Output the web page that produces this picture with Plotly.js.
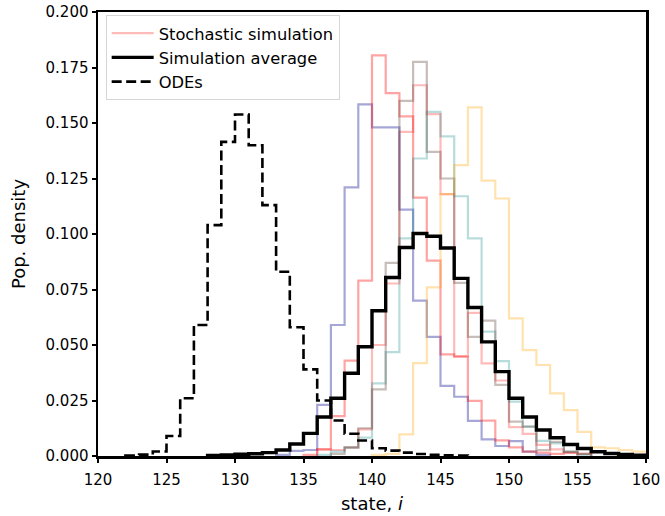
<!DOCTYPE html>
<html>
<head>
<meta charset="utf-8">
<script src="https://cdn.plot.ly/plotly-3.0.1.min.js"></script>
<style>html,body{margin:0;padding:0;background:#fff;}#chart{width:665px;height:516px;}</style>
</head>
<body>
<div id="chart"></div>
<script>
// Each histogram: first bin (left edge, integer state) and bin heights (width-1 bins)
const odeStart = 122;
const odeValues = [0.0002, 0.0006, 0.002, 0.009, 0.026, 0.059, 0.104, 0.1415, 0.1538, 0.140, 0.113, 0.083, 0.058, 0.039, 0.025, 0.016, 0.010, 0.007, 0.0035, 0.0024, 0.0015, 0.0009, 0.0005, 0.0003, 0.0002];

const avgStart = 128;
const avgValues = [0.0003, 0.0005, 0.0008, 0.001, 0.0015, 0.0027, 0.0054, 0.0102, 0.0176, 0.026, 0.0373, 0.0492, 0.0654, 0.0804, 0.0939, 0.1002, 0.099, 0.0937, 0.080, 0.0669, 0.0514, 0.038, 0.026, 0.0176, 0.0117, 0.0082, 0.0052, 0.0034, 0.0019, 0.0011, 0.0007, 0.0004];

const simPinkStart = 136;
const simPinkValues = [0.003, 0.0027, 0.004, 0.012, 0.050, 0.0777, 0.146, 0.167, 0.154, 0.118, 0.045, 0.0645, 0.0417, 0.034, 0.013, 0.010, 0.005, 0.003, 0.0015];

const simBlueStart = 133;
const simBlueValues = [0.0005, 0.0023, 0.0027, 0.023, 0.059, 0.121, 0.1584, 0.148, 0.148, 0.111, 0.070, 0.0537, 0.0316, 0.0267, 0.0158, 0.0075, 0.0045, 0.0067, 0.002, 0.0005];

const simRedStart = 135;
const simRedValues = [0.0005, 0.003, 0.018, 0.043, 0.079, 0.1805, 0.1635, 0.153, 0.1164, 0.088, 0.0458, 0.0447, 0.0248, 0.0159, 0.007, 0.0039, 0.002, 0.0015, 0.001, 0.0015, 0.001];

const simTealStart = 136;
const simTealValues = [0.0005, 0.002, 0.004, 0.0083, 0.0327, 0.0468, 0.098, 0.134, 0.155, 0.144, 0.117, 0.098, 0.056, 0.0427, 0.0245, 0.0132, 0.0068, 0.0057, 0.002, 0.0005];

const simBrownStart = 137;
const simBrownValues = [0.001, 0.0036, 0.0125, 0.030, 0.087, 0.160, 0.1775, 0.137, 0.125, 0.078, 0.0537, 0.061, 0.032, 0.0155, 0.0132, 0.0027, 0.0064, 0.002, 0.001];

const simOrangeStart = 140;
const simOrangeValues = [0.0005, 0.001, 0.0097, 0.0418, 0.076, 0.118, 0.131, 0.157, 0.124, 0.116, 0.062, 0.0477, 0.041, 0.0282, 0.0207, 0.0109, 0.0039, 0.0035, 0.0027, 0.002];

function stepTrace(start, vals) {
  const x = [start], y = [0];
  for (let i = 0; i < vals.length; i++) { x.push(start + i); y.push(vals[i]); }
  x.push(start + vals.length); y.push(0);
  return {x: x, y: y};
}

const sims = [
  {start: simPinkStart, vals: simPinkValues, color: 'rgba(255,0,0,0.27)', legend: true},
  {start: simBlueStart, vals: simBlueValues, color: 'rgba(0,0,139,0.35)'},
  {start: simRedStart, vals: simRedValues, color: 'rgba(255,0,0,0.36)'},
  {start: simTealStart, vals: simTealValues, color: 'rgba(0,128,128,0.28)'},
  {start: simBrownStart, vals: simBrownValues, color: 'rgba(100,75,65,0.36)'},
  {start: simOrangeStart, vals: simOrangeValues, color: 'rgba(255,165,0,0.32)'}
];

const traces = [];
sims.forEach(function (s) {
  const d = stepTrace(s.start, s.vals);
  traces.push({
    x: d.x, y: d.y, type: 'scatter', mode: 'lines',
    line: {shape: 'hv', color: s.color, width: 2.2},
    name: 'Stochastic simulation', showlegend: !!s.legend, hoverinfo: 'skip'
  });
});
const avg = stepTrace(avgStart, avgValues);
traces.push({x: avg.x, y: avg.y, type: 'scatter', mode: 'lines',
  line: {shape: 'hv', color: '#000', width: 3.4}, name: 'Simulation average'});
const ode = stepTrace(odeStart, odeValues);
traces.push({x: ode.x, y: ode.y, type: 'scatter', mode: 'lines',
  line: {shape: 'hv', color: '#000', width: 2.6, dash: '10px,4.5px'}, name: 'ODEs'});

const font = {family: 'DejaVu Sans, sans-serif', color: '#000'};
const layout = {
  width: 665, height: 516,
  margin: {l: 98, r: 19, t: 12, b: 60},
  paper_bgcolor: '#fff', plot_bgcolor: '#fff',
  font: Object.assign({size: 15}, font),
  showlegend: true,
  legend: {
    x: 0.014, y: 0.993, xanchor: 'left', yanchor: 'top',
    bgcolor: 'rgba(255,255,255,0.85)', bordercolor: '#d6d6d6', borderwidth: 1,
    font: Object.assign({size: 16.3}, font), tracegroupgap: 0, itemwidth: 42
  },
  xaxis: {
    range: [120, 160], dtick: 5, tick0: 120,
    showgrid: false, zeroline: false,
    showline: true, linecolor: '#000', linewidth: 2.5, mirror: true,
    ticks: 'outside', ticklen: 4, tickwidth: 2, tickcolor: '#000',
    ticklabelstandoff: 4,
    tickfont: Object.assign({size: 15}, font),
    title: {text: 'state, <i>i</i>', font: Object.assign({size: 18}, font), standoff: 10}
  },
  yaxis: {
    range: [0, 0.2], dtick: 0.025, tick0: 0, tickformat: '.3f',
    showgrid: false, zeroline: false,
    showline: true, linecolor: '#000', linewidth: 2.5, mirror: true,
    ticks: 'outside', ticklen: 4, tickwidth: 2, tickcolor: '#000',
    tickfont: Object.assign({size: 15}, font),
    title: {text: 'Pop. density', font: Object.assign({size: 18}, font), standoff: 15}
  }
};

Plotly.newPlot('chart', traces, layout, {displayModeBar: false, staticPlot: true});
</script>
</body>
</html>
